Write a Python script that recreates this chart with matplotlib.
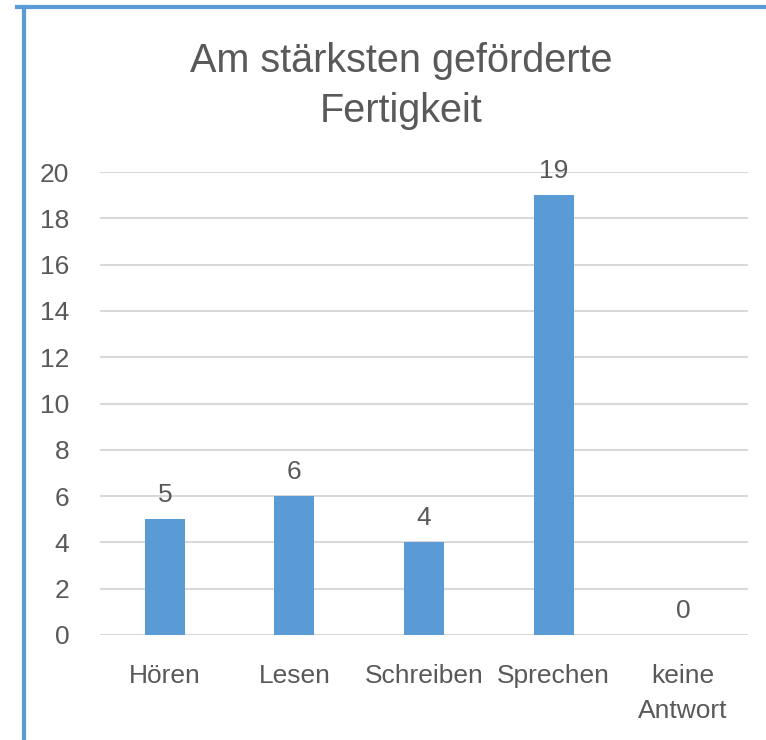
import matplotlib
matplotlib.use("Agg")
import matplotlib.pyplot as plt
from matplotlib.lines import Line2D

plt.rcParams['font.family'] = ['Liberation Sans Narrow', 'Liberation Sans', 'DejaVu Sans']

# --- data ---
categories = ["Hören", "Lesen", "Schreiben", "Sprechen", "keine\nAntwort"]
counts = [5, 6, 4, 19, 0]
y_ticks = [0, 2, 4, 6, 8, 10, 12, 14, 16, 18, 20]
title = "Am stärksten geförderte\nFertigkeit"

bar_color = "#5B9BD5"
text_color = "#595959"
grid_color = "#D9D9D9"

fig = plt.figure(figsize=(7.66, 7.40), dpi=100)
ax = fig.add_axes([100 / 766, 1 - 635 / 740, 648 / 766, (635 - 172) / 740])

x = list(range(len(categories)))
bars = ax.bar(x, counts, width=0.31, color=bar_color, zorder=3)

for xi, v in zip(x, counts):
    ax.annotate(str(v), (xi, v), xytext=(0, 9), textcoords="offset points",
                ha="center", va="bottom", fontsize=19, color=text_color)

ax.set_xlim(-0.5, len(categories) - 0.5)
ax.set_ylim(0, 20)
ax.set_yticks(y_ticks)
ax.set_xticks(x)
ax.set_xticklabels(categories, fontsize=19, color=text_color, linespacing=1.55)
ax.tick_params(axis="y", labelsize=19, labelcolor=text_color, length=0, pad=22)
ax.tick_params(axis="x", length=0, pad=21)
ax.yaxis.grid(True, color=grid_color, linewidth=1.5, zorder=0)
for s in ax.spines.values():
    s.set_visible(False)

fig.text(401 / 766, 1 - 42 / 740, title, ha="center", va="top",
         fontsize=28.5, color=text_color, linespacing=1.4)

# chart frame (cropped: only top and left edges visible)
fig.add_artist(Line2D([17 / 766, 1], [1 - 7 / 740, 1 - 7 / 740],
                      color=bar_color, linewidth=3, transform=fig.transFigure))
fig.add_artist(Line2D([24 / 766, 24 / 766], [0, 1 - 7 / 740],
                      color=bar_color, linewidth=3, transform=fig.transFigure))

fig.savefig("out.png", dpi=100)
